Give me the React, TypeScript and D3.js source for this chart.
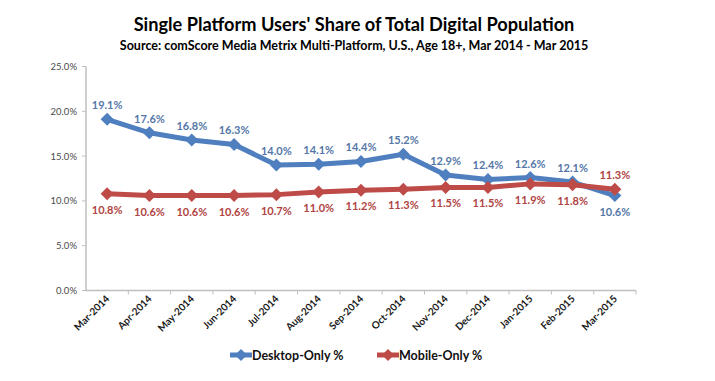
import React from "react";
import * as d3 from "d3";

const months = ["Mar-2014","Apr-2014","May-2014","Jun-2014","Jul-2014","Aug-2014","Sep-2014","Oct-2014","Nov-2014","Dec-2014","Jan-2015","Feb-2015","Mar-2015"];
const desktopOnly = [19.1, 17.6, 16.8, 16.3, 14.0, 14.1, 14.4, 15.2, 12.9, 12.4, 12.6, 12.1, 10.6];
const mobileOnly = [10.8, 10.6, 10.6, 10.6, 10.7, 11.0, 11.2, 11.3, 11.5, 11.5, 11.9, 11.8, 11.3];
const yTicks = [0, 5, 10, 15, 20, 25];
const seriesNames = ["Desktop-Only %", "Mobile-Only %"];

const W = 715, H = 381;
const FONT = "Lato, 'Open Sans', sans-serif";
const BLUE = "#4F7FBE";
const RED = "#BE4B48";
const BLUE_TXT = "#5577A8";
const RED_TXT = "#B04443";

export default function App() {
  const x = d3.scaleBand<string>().domain(months).range([86, 636]);
  const y = d3.scaleLinear().domain([0, 25]).range([290.5, 66.5]);
  const cx = (m: string) => (x(m) as number) + x.bandwidth() / 2;
  const line = d3.line<number>().x((_, i) => cx(months[i])).y((d) => y(d));
  const diamond = (px: number, py: number, r: number) =>
    `M${px},${py - r}L${px + r},${py}L${px},${py + r}L${px - r},${py}Z`;

  const series = [
    { name: seriesNames[0], values: desktopOnly, color: BLUE, txt: BLUE_TXT },
    { name: seriesNames[1], values: mobileOnly, color: RED, txt: RED_TXT },
  ];

  const labelAbove = (si: number, i: number) => {
    const other = series[1 - si].values[i];
    return series[si].values[i] >= other;
  };

  return (
    <svg width={W} height={H} style={{ position: "absolute", left: 0, top: 0, background: "#fff" }} fontFamily={FONT}>
      <rect width={W} height={H} fill="#fff" />
      <text x={354} y={31} textAnchor="middle" fontSize={18.2} fontWeight={700} fill="#000">
        Single Platform Users' Share of Total Digital Population
      </text>
      <text x={354} y={50} textAnchor="middle" fontSize={12.5} fontWeight={700} fill="#000">
        Source: comScore Media Metrix Multi-Platform, U.S., Age 18+, Mar 2014 - Mar 2015
      </text>

      {/* y axis */}
      <line x1={86} x2={86} y1={y(25)} y2={y(0)} stroke="#BFBFBF" strokeWidth={1.5} />
      {yTicks.map((t) => (
        <g key={t}>
          <line x1={82} x2={86} y1={y(t)} y2={y(t)} stroke="#BFBFBF" strokeWidth={1} />
          <text x={77} y={y(t) + 3.5} textAnchor="end" fontSize={9.5} fill="#4a4a4a">
            {t.toFixed(1)}%
          </text>
        </g>
      ))}

      {/* x axis */}
      <line x1={86} x2={636} y1={y(0)} y2={y(0)} stroke="#BFBFBF" strokeWidth={1.5} />
      {months.map((m, i) => (
        <g key={m}>
          <line x1={86 + x.step() * (i + 1)} x2={86 + x.step() * (i + 1)} y1={y(0)} y2={y(0) + 4} stroke="#BFBFBF" strokeWidth={1} />
          <text
            transform={`translate(${cx(m) + 3},${y(0) + 9}) rotate(-45)`}
            textAnchor="end"
            fontSize={10}
            fontWeight={700}
            fill="#1a1a1a"
          >
            {m}
          </text>
        </g>
      ))}

      {/* series */}
      {series.map((s, si) => (
        <g key={s.name}>
          <path d={line(s.values) as string} fill="none" stroke={s.color} strokeWidth={5} strokeLinejoin="round" />
          {s.values.map((v, i) => (
            <path key={i} d={diamond(cx(months[i]), y(v), 6.5)} fill={s.color} />
          ))}
        </g>
      ))}
      {series.map((s, si) =>
        s.values.map((v, i) => {
          const above = labelAbove(si, i);
          return (
            <text
              key={s.name + i}
              x={cx(months[i])}
              y={above ? y(v) - 10 : y(v) + 20}
              textAnchor="middle"
              fontSize={11}
              fontWeight={700}
              fill={s.txt}
            >
              {v.toFixed(1)}%
            </text>
          );
        })
      )}

      {/* legend */}
      {series.map((s, si) => {
        const lx = si === 0 ? 230 : 377;
        const ly = 355;
        return (
          <g key={"leg" + si}>
            <line x1={lx} x2={lx + 22} y1={ly} y2={ly} stroke={s.color} strokeWidth={5} />
            <path d={diamond(lx + 11, ly, 6)} fill={s.color} />
            <text x={lx + 22} y={ly + 5} fontSize={12.5} fontWeight={700} fill="#111">
              {s.name}
            </text>
          </g>
        );
      })}
    </svg>
  );
}
